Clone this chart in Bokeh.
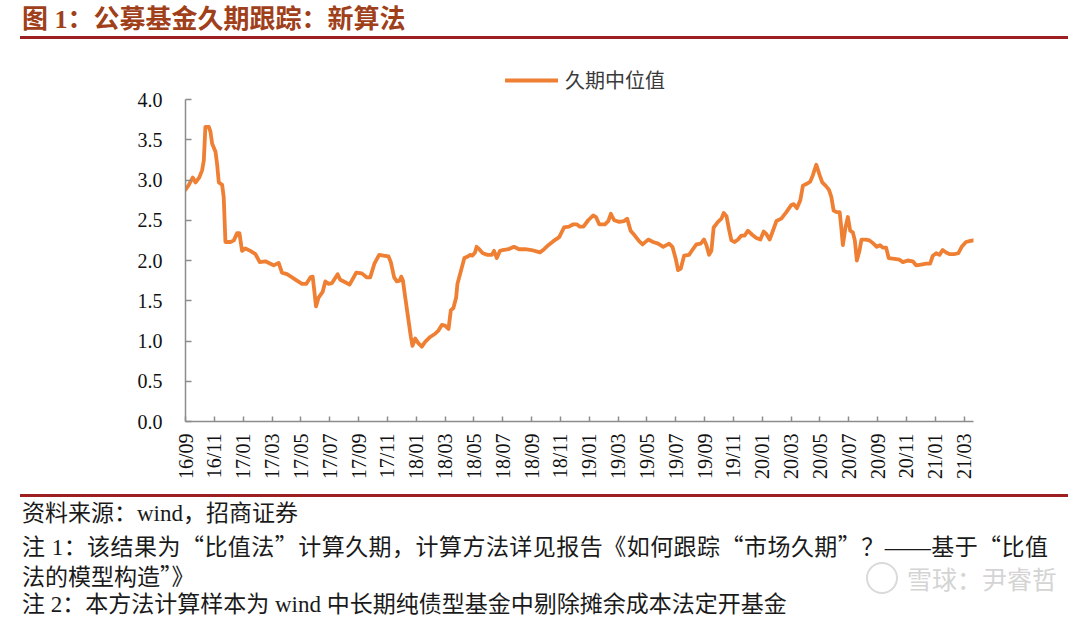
import math
from bokeh.plotting import figure
from bokeh.layouts import column
from bokeh.models import Range1d, FixedTicker, Legend, LegendItem, Div
from bokeh.embed import file_html
from bokeh.resources import INLINE

# ---------------- data ----------------
# time in months since 2016-09 (0 = 16/09)
month_index = [
    0.0, 0.2, 0.5, 0.7, 0.95, 1.15, 1.27, 1.38, 1.62, 1.73, 1.85, 2.08, 2.19, 2.31, 2.54, 2.65,
    2.77, 3.12, 3.35, 3.58, 3.74, 3.92, 4.15, 4.5, 4.85, 5.15, 5.54, 5.89, 6.12, 6.46, 6.69,
    7.04, 7.39, 7.73, 8.08, 8.38, 8.66, 8.82, 8.93, 9.05, 9.23, 9.51, 9.70, 9.93, 10.16,
    10.55, 10.73, 11.08, 11.38, 11.66, 11.84, 12.23, 12.58, 12.81, 13.1, 13.43, 13.73, 14.08,
    14.24, 14.47, 14.66, 14.85, 14.96, 15.08, 15.24, 15.47, 15.63, 15.74, 15.93, 16.16, 16.39,
    16.62, 16.97, 17.31, 17.54, 17.78, 18.0, 18.24, 18.40, 18.58, 18.77, 18.86, 19.04, 19.34,
    19.58, 19.74, 19.9, 20.08, 20.19, 20.37, 20.62, 20.94, 21.24, 21.40, 21.59, 21.81, 22.0,
    22.4, 22.78, 23.13, 23.55, 24.0, 24.58, 24.8, 25.16, 25.51, 25.92, 26.25, 26.6, 26.9,
    27.13, 27.35, 27.6, 27.93, 28.28, 28.47, 28.69, 29.09, 29.32, 29.5, 29.73, 30.08, 30.42,
    30.63, 30.87, 31.16, 31.46, 31.7, 32.09, 32.43, 32.78, 33.13, 33.54, 33.77, 34.0, 34.16,
    34.35, 34.58, 34.92, 35.15, 35.43, 35.73, 35.96, 36.13, 36.31, 36.47, 36.63, 36.93, 37.17,
    37.33, 37.52, 37.7, 37.86, 38.09, 38.32, 38.55, 38.78, 39.0, 39.3, 39.59, 39.87, 40.1,
    40.28, 40.51, 40.74, 40.98, 41.32, 41.67, 42.02, 42.18, 42.4, 42.64, 42.82, 43.05, 43.33,
    43.51, 43.75, 43.98, 44.16, 44.39, 44.62, 44.79, 44.95, 45.18, 45.37, 45.48, 45.59, 45.77,
    45.94, 46.1, 46.28, 46.42, 46.56, 46.74, 46.88, 47.2, 47.43, 47.71, 47.94, 48.17, 48.36,
    48.59, 48.77, 49.17, 49.52, 49.75, 50.09, 50.44, 50.67, 51.02, 51.36, 51.64, 51.83, 52.06,
    52.29, 52.51, 52.75, 52.98, 53.3, 53.6, 53.83, 54.13, 54.36, 54.64,
]
duration_median = [
    2.88, 2.93, 3.03, 2.97, 3.03, 3.12, 3.24, 3.66, 3.66, 3.60, 3.45, 3.35, 3.20, 2.97, 2.94, 2.79,
    2.23, 2.23, 2.25, 2.34, 2.34, 2.12, 2.15, 2.12, 2.08, 1.98, 1.99, 1.96, 1.94, 1.97, 1.85,
    1.83, 1.79, 1.75, 1.71, 1.71, 1.79, 1.80, 1.63, 1.43, 1.54, 1.61, 1.74, 1.71, 1.72,
    1.83, 1.76, 1.73, 1.70, 1.79, 1.85, 1.84, 1.79, 1.79, 1.96, 2.07, 2.06, 2.05,
    1.98, 1.79, 1.74, 1.75, 1.80, 1.75, 1.54, 1.25, 1.05, 0.94, 1.03, 0.97, 0.93,
    0.99, 1.05, 1.09, 1.13, 1.20, 1.19, 1.15, 1.38, 1.41, 1.54, 1.71, 1.83, 2.03,
    2.05, 2.07, 2.06, 2.10, 2.17, 2.14, 2.09, 2.07, 2.07, 2.12, 2.03, 2.12, 2.13,
    2.14, 2.17, 2.14, 2.14, 2.13, 2.10, 2.13, 2.19, 2.24, 2.29, 2.41, 2.42, 2.45,
    2.45, 2.42, 2.42, 2.50, 2.56, 2.54, 2.45, 2.45, 2.49, 2.58, 2.50, 2.48, 2.49,
    2.52, 2.37, 2.31, 2.24, 2.20, 2.26, 2.23, 2.21, 2.17, 2.21, 2.17, 2.02, 1.88,
    1.90, 2.06, 2.07, 2.13, 2.20, 2.21, 2.26, 2.19, 2.07, 2.12, 2.41, 2.48, 2.52,
    2.59, 2.55, 2.38, 2.25, 2.23, 2.26, 2.31, 2.31, 2.37, 2.32, 2.28, 2.26, 2.36,
    2.33, 2.26, 2.37, 2.49, 2.52, 2.60, 2.69, 2.70, 2.65, 2.75, 2.93, 2.95, 2.98,
    3.06, 3.19, 3.06, 2.97, 2.93, 2.88, 2.79, 2.62, 2.60, 2.60, 2.41, 2.19, 2.41,
    2.54, 2.37, 2.35, 2.25, 2.00, 2.12, 2.26, 2.26, 2.25, 2.21, 2.17, 2.19, 2.16,
    2.16, 2.03, 2.02, 2.01, 1.98, 2.00, 1.99, 1.94, 1.95, 1.96, 1.96, 2.06, 2.09,
    2.07, 2.13, 2.10, 2.08, 2.08, 2.09, 2.17, 2.23, 2.24, 2.25,
]
x_tick_labels = [
    "16/09", "16/11", "17/01", "17/03", "17/05", "17/07", "17/09", "17/11",
    "18/01", "18/03", "18/05", "18/07", "18/09", "18/11", "19/01", "19/03",
    "19/05", "19/07", "19/09", "19/11", "20/01", "20/03", "20/05", "20/07",
    "20/09", "20/11", "21/01", "21/03",
]
y_ticks = [0.0, 0.5, 1.0, 1.5, 2.0, 2.5, 3.0, 3.5, 4.0]

series_name = "久期中位值"
title_text = "图 1：公募基金久期跟踪：新算法"
footer_lines = [
    "资料来源：wind，招商证券",
    "注 1：该结果为“比值法”计算久期，计算方法详见报告《如何跟踪“市场久期”？——基于“比值",
    "法的模型构造”》",
    "注 2：本方法计算样本为 wind 中长期纯债型基金中剔除摊余成本法定开基金",
]
watermark = "雪球：尹睿哲"

# ---------------- styling ----------------
ORANGE = "#EE7F33"
AXIS_GRAY = "#8C8C8C"
RULE_RED = "#9E1F22"
TITLE_COLOR = "#A0401A"
SERIF = "'Liberation Serif', 'Noto Sans CJK SC'"
CJK = "'Noto Sans CJK SC'"

W = 1072
HEAD_H = 60                     # page rows 0..60
MAIN_TOP, MAIN_BOT = 60, 490    # page rows of main figure (frame top = MAIN_TOP)
FOOT_H = 129                    # page rows 490..619
FRAME_L, FRAME_R, AXIS_TOP, FRAME_B = 185, 973, 99, 421
Y_MAX = 4.0
# frame reaches up to MAIN_TOP so the legend sits inside it; the axis stops at 4.0
y_end = Y_MAX * (FRAME_B - MAIN_TOP) / (FRAME_B - AXIS_TOP)


def cjk_quotes(s):
    for ch in "“”":
        s = s.replace(ch, f"<span style=\"font-family:{CJK}\">{ch}</span>")
    return s


# ---------------- header: title and rule ----------------
head_html = f"""
<div style="position:relative;width:{W}px;height:{HEAD_H}px;margin:0;padding:0;overflow:hidden;">
  <div style="position:absolute;left:22px;top:4px;white-space:nowrap;font-family:{SERIF};
              font-size:26px;font-weight:bold;color:{TITLE_COLOR};line-height:32px;">{title_text}</div>
  <div style="position:absolute;left:20px;top:36px;width:1048px;height:2.5px;background:{RULE_RED};"></div>
</div>
"""
head = Div(text=head_html, width=W, height=HEAD_H, margin=0)

# ---------------- main chart ----------------
main_h = MAIN_BOT - MAIN_TOP
p = figure(
    width=W, height=main_h, output_backend="svg", toolbar_location=None,
    x_range=Range1d(0, 54.65), y_range=Range1d(0, y_end),
    min_border_left=FRAME_L, min_border_right=W - FRAME_R,
    min_border_top=0, min_border_bottom=MAIN_BOT - FRAME_B,
    background_fill_color="white", border_fill_color="white", margin=0,
)
p.outline_line_color = None
p.grid.visible = False

r = p.line(month_index, duration_median, line_color=ORANGE, line_width=3.8,
           line_join="round", line_cap="round")

ya = p.yaxis[0]
ya.bounds = (0, Y_MAX)
ya.ticker = FixedTicker(ticks=y_ticks)
ya.major_label_overrides = {t: f"{t:.1f}" for t in y_ticks}
ya.axis_line_color = AXIS_GRAY
ya.axis_line_width = 1.5
ya.major_tick_line_color = AXIS_GRAY
ya.major_tick_line_width = 1.5
ya.major_tick_in = 6
ya.major_tick_out = 0
ya.minor_tick_line_color = None
ya.major_label_text_font = SERIF
ya.major_label_text_font_size = "20px"
ya.major_label_text_color = "#111111"
ya.major_label_standoff = 23

xa = p.xaxis[0]
x_ticks = [2 * i for i in range(len(x_tick_labels))]
xa.ticker = FixedTicker(ticks=x_ticks)
xa.major_label_overrides = {t: lab for t, lab in zip(x_ticks, x_tick_labels)}
xa.major_label_orientation = math.pi / 2
xa.axis_line_color = AXIS_GRAY
xa.axis_line_width = 1.5
xa.major_tick_line_color = AXIS_GRAY
xa.major_tick_line_width = 1.5
xa.major_tick_in = 5
xa.major_tick_out = 0
xa.minor_tick_line_color = None
xa.major_label_text_font = SERIF
xa.major_label_text_font_size = "20px"
xa.major_label_text_color = "#111111"
xa.major_label_standoff = 12

legend = Legend(
    items=[LegendItem(label=series_name, renderers=[r])],
    location=(505 - FRAME_L, FRAME_B - 94),
    orientation="horizontal", border_line_color=None, background_fill_alpha=0,
    padding=0, margin=0, spacing=0, glyph_width=53, glyph_height=20,
    label_height=20, label_standoff=7, label_text_font=CJK,
    label_text_font_size="20px", label_text_color="#3A3A3A",
)
p.add_layout(legend, "center")

# ---------------- footer ----------------
line_centres = [24, 55, 85, 115]   # rows inside footer block (page rows 514, 545, 575, 605)
rows = []
for i, (txt, yc) in enumerate(zip(footer_lines, line_centres)):
    just = "text-align:justify;text-align-last:justify;width:1026px;" if i == 1 else ""
    rows.append(
        f'<div style="position:absolute;left:22px;top:{yc - 15}px;line-height:30px;'
        f'white-space:nowrap;{just}">{cjk_quotes(txt)}</div>'
    )
foot_html = f"""
<div style="position:relative;width:{W}px;height:{FOOT_H}px;margin:0;padding:0;overflow:hidden;
            font-family:{SERIF};font-size:23px;color:#1A1A1A;">
  <div style="position:absolute;left:20px;top:4px;width:1048px;height:2.5px;background:{RULE_RED};"></div>
  {''.join(rows)}
  <div style="position:absolute;left:866px;top:72px;width:32px;height:32px;border-radius:50%;
              border:2.5px solid #DADADA;box-sizing:border-box;"></div>
  <div style="position:absolute;left:907px;top:71px;line-height:34px;white-space:nowrap;
              font-family:{CJK};font-size:25px;color:#D4D4D4;">{watermark}</div>
</div>
"""
foot = Div(text=foot_html, width=W, height=FOOT_H, margin=0)

layout = column(head, p, foot, spacing=0)
open("out.html", "w").write(file_html(layout, INLINE))
